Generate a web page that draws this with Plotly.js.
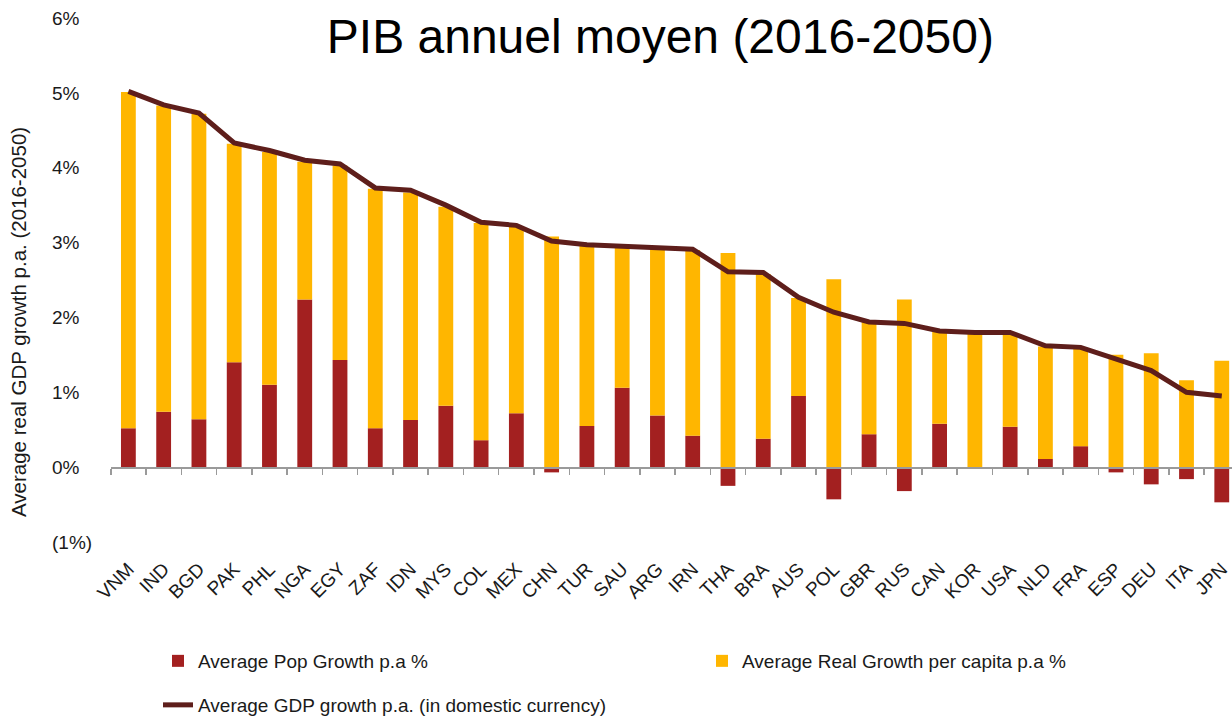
<!DOCTYPE html>
<html>
<head>
<meta charset="utf-8">
<script src="https://cdn.plot.ly/plotly-3.0.1.min.js"></script>
<style>html,body{margin:0;padding:0;background:#fff;}#chart{width:1232px;height:717px;}</style>
</head>
<body>
<div id="chart"></div>
<script>
const countries = ["VNM","IND","BGD","PAK","PHL","NGA","EGY","ZAF","IDN","MYS","COL","MEX","CHN","TUR","SAU","ARG","IRN","THA","BRA","AUS","POL","GBR","RUS","CAN","KOR","USA","NLD","FRA","ESP","DEU","ITA","JPN"];
const popGrowth = [0.52,0.74,0.64,1.40,1.10,2.24,1.43,0.52,0.63,0.82,0.36,0.72,-0.07,0.55,1.06,0.69,0.42,-0.25,0.38,0.95,-0.43,0.44,-0.32,0.58,0.00,0.54,0.11,0.28,-0.07,-0.23,-0.16,-0.47];
const perCapitaGrowth = [4.49,4.09,4.08,2.92,3.11,1.84,2.60,3.20,3.04,2.66,2.90,2.49,3.08,2.41,1.88,2.23,2.48,2.86,2.20,1.31,2.51,1.50,2.24,1.23,1.79,1.25,1.50,1.31,1.50,1.52,1.16,1.42];
const gdpGrowth = [5.02,4.84,4.73,4.33,4.23,4.10,4.05,3.73,3.70,3.50,3.27,3.23,3.02,2.97,2.95,2.93,2.91,2.61,2.60,2.27,2.07,1.94,1.92,1.82,1.80,1.80,1.62,1.60,1.44,1.29,1.00,0.95];
const yTickVals = [-1,0,1,2,3,4,5,6];
const yTickText = ["(1%)","0%","1%","2%","3%","4%","5%","6%"];

const FONT = "Liberation Sans, Arial, sans-serif";
const traces = [
  {type:"bar", name:"Average Pop Growth p.a %", x:countries, y:popGrowth,
   marker:{color:"#A32020"}, legend:"legend"},
  {type:"bar", name:"Average Real Growth per capita p.a %", x:countries, y:perCapitaGrowth,
   marker:{color:"#FFB600"}, legend:"legend"},
  {type:"scatter", mode:"lines", name:"Average GDP growth p.a. (in domestic currency)", x:countries, y:gdpGrowth,
   line:{color:"#5E1E1B", width:5}, legend:"legend2"}
];
const layout = {
  width:1232, height:717,
  margin:{l:48, r:0, t:18, b:175},
  paper_bgcolor:"#fff", plot_bgcolor:"#fff",
  font:{family:FONT, color:"#1a1a1a", size:19},
  barmode:"relative", bargap:0.58,
  title:{text:"PIB annuel moyen (2016-2050)", font:{family:FONT, size:48, color:"#000"},
         x:0.536, xanchor:"center", xref:"container", y:0.95, yanchor:"middle", yref:"container"},
  xaxis:{domain:[0.053,1], range:[-0.5,31.29], type:"category",
         anchor:"free", position:1/7,
         showline:true, linecolor:"#9a9a9a", linewidth:1.5,
         ticks:"outside", tickson:"boundaries", ticklen:6, tickcolor:"#9a9a9a", tickwidth:1.5,
         tickangle:-45, tickfont:{size:19, color:"#1a1a1a"}, ticklabelstandoff:82,
         showgrid:false, zeroline:false},
  yaxis:{range:[-1,6], anchor:"free", position:0, tickvals:yTickVals, ticktext:yTickText,
         ticklabelposition:"inside", ticklabeloverflow:"allow", ticks:"", showline:false, showgrid:false, zeroline:false,
         tickfont:{size:19, color:"#1a1a1a"}},
  legend:{orientation:"h", x:158/1232, xref:"container", y:1-642/717, yref:"container",
          xanchor:"left", yanchor:"top", entrywidth:499, font:{size:19, color:"#1a1a1a"},
          bgcolor:"rgba(0,0,0,0)", traceorder:"normal"},
  legend2:{orientation:"h", x:158/1232, xref:"container", y:1-686/717, yref:"container",
          xanchor:"left", yanchor:"top", font:{size:19, color:"#1a1a1a"}, bgcolor:"rgba(0,0,0,0)"},
  annotations:[{text:"Average real GDP growth p.a. (2016-2050)", textangle:-90,
    xref:"paper", yref:"paper", x:-30/1184, xanchor:"center",
    y:(542-322)/524, yanchor:"middle", showarrow:false, font:{size:20.5, color:"#1a1a1a"}}],
  showlegend:true
};
Plotly.newPlot("chart", traces, layout, {displayModeBar:false, staticPlot:true});
</script>
</body>
</html>
